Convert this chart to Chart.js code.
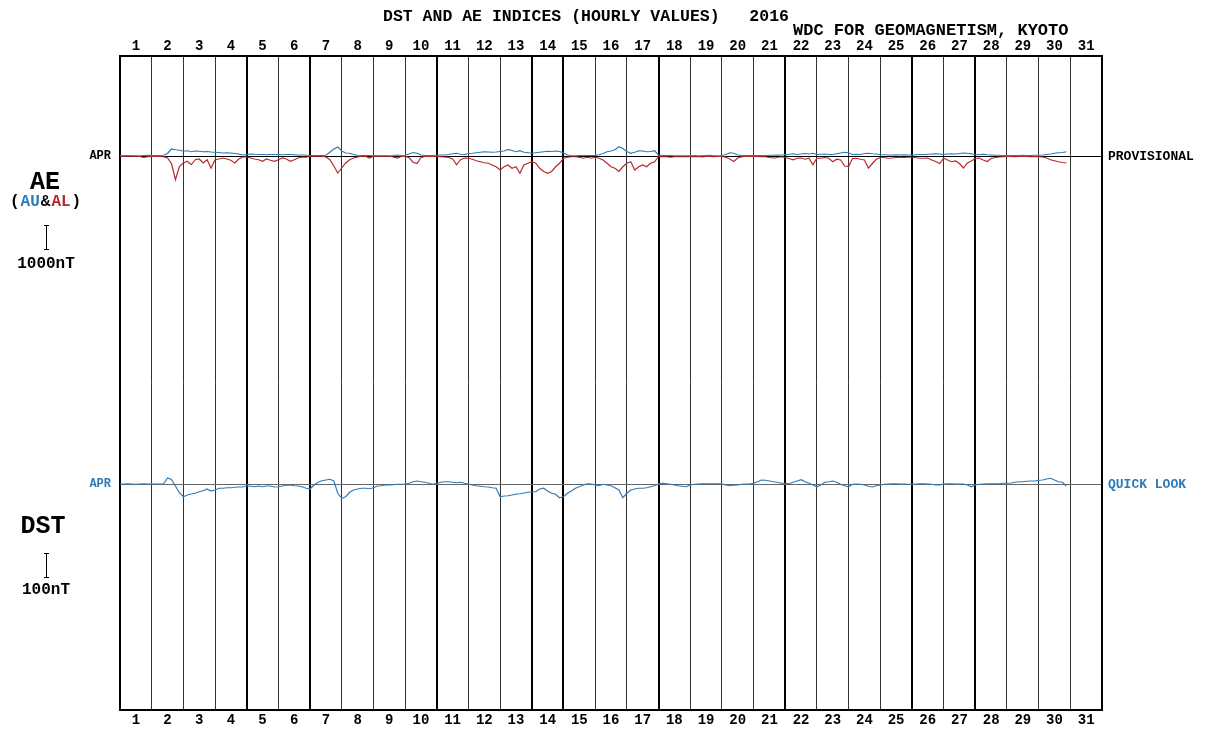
<!DOCTYPE html>
<html>
<head>
<meta charset="utf-8">
<title>DST and AE indices, April 2016</title>
<script src="https://cdn.jsdelivr.net/npm/chart.js@4.4.0/dist/chart.umd.min.js"></script>
<style>
  html, body { margin: 0; padding: 0; background: #fff; }
  canvas { display: block; }
</style>
</head>
<body>
<canvas id="chart" width="1208" height="730"></canvas>
<script>
// day columns shown on the top and bottom axes
const dayLabels = [1, 2, 3, 4, 5, 6, 7, 8, 9, 10, 11, 12, 13, 14, 15, 16,
  17, 18, 19, 20, 21, 22, 23, 24, 25, 26, 27, 28, 29, 30, 31];

// values every 3 hours (8 per day), April 1-30 2016
const hourStep = 3;

const auValues = [
  10, 10, 20, 10, 10, 10, 20, 30,
  20, 20, 20, 30, 100, 280, 250, 230,
  190, 210, 170, 200, 190, 170, 180, 160,
  150, 140, 120, 130, 120, 100, 80, 40,
  60, 80, 70, 60, 60, 50, 60, 60,
  60, 50, 60, 60, 50, 40, 40, 30,
  20, 20, 20, 20, 30, 150, 280, 360,
  200, 120, 110, 60, 30, 20, 20, 20,
  10, 10, 10, 10, 10, 20, 40, 20,
  30, 80, 140, 110, 40, 20, 20, 20,
  30, 40, 40, 60, 90, 110, 70, 60,
  100, 110, 130, 150, 170, 160, 150, 160,
  180, 200, 260, 220, 170, 210, 150, 130,
  110, 130, 150, 170, 190, 180, 200, 180,
  120, 40, 20, 10, 20, 20, 20, 20,
  20, 50, 100, 170, 200, 250, 370, 300,
  180, 110, 150, 210, 200, 170, 180, 210,
  40, 20, 20, 20, 10, 10, 10, 10,
  10, 20, 10, 10, 20, 30, 10, 10,
  20, 60, 130, 110, 40, 20, 20, 20,
  20, 20, 20, 20, 30, 30, 40, 30,
  60, 70, 90, 60, 80, 100, 80, 110,
  60, 70, 80, 60, 60, 90, 120, 150,
  130, 60, 70, 60, 100, 110, 90, 80,
  60, 50, 40, 40, 50, 40, 50, 40,
  40, 50, 60, 60, 70, 80, 90, 80,
  60, 80, 90, 80, 100, 120, 110, 90,
  50, 60, 70, 50, 40, 30, 30, 20,
  20, 20, 20, 20, 30, 20, 20, 30,
  30, 40, 60, 80, 110, 130, 140, 170
];

const alValues = [
  -10, -10, -10, -10, -10, -20, -60, -30,
  -20, -20, -20, -30, -80, -300, -950, -420,
  -280, -210, -350, -150, -120, -280, -150, -480,
  -150, -120, -80, -120, -170, -280, -120, -40,
  -40, -80, -120, -150, -210, -120, -170, -210,
  -150, -80, -120, -210, -150, -80, -40, -50,
  -10, -10, -10, -10, -40, -150, -400, -680,
  -480, -280, -150, -80, -40, -10, -10, -80,
  -10, -10, -10, -10, -10, -40, -80, -20,
  -20, -60, -250, -300, -60, -20, -20, -20,
  -20, -30, -40, -60, -120, -350, -150, -80,
  -90, -130, -190, -230, -270, -290, -360, -430,
  -560, -430, -360, -490, -430, -690, -360, -290,
  -230, -290, -490, -620, -690, -620, -430, -290,
  -90, -50, -30, -30, -50, -90, -50, -90,
  -50, -90, -160, -290, -430, -490, -620, -430,
  -290, -230, -560, -430, -360, -430, -290, -230,
  -30, -30, -30, -50, -30, -30, -30, -30,
  -20, -30, -20, -40, -20, -20, -30, -20,
  -20, -50, -120, -220, -80, -30, -20, -20,
  -20, -20, -30, -30, -60, -80, -60, -30,
  -60, -100, -150, -90, -80, -130, -90, -350,
  -80, -90, -60, -90, -230, -130, -160, -400,
  -420, -100, -90, -130, -160, -490, -300, -130,
  -60, -60, -90, -80, -60, -50, -60, -50,
  -50, -70, -90, -90, -80, -160, -220, -300,
  -90, -160, -230, -200, -300, -480, -280, -200,
  -100, -80, -160, -220, -100, -60, -40, -30,
  -20, -20, -30, -20, -20, -20, -30, -20,
  -30, -40, -80, -150, -190, -230, -260, -280
];

const dstValues = [
  -1, 0, 1, 0, -1, 0, 1, 0,
  0, 0, 0, 1, 24, 18, -8, -35,
  -51, -44, -40, -37, -31, -27, -20, -28,
  -24, -17, -17, -15, -15, -13, -12, -12,
  -7, -9, -11, -8, -11, -8, -8, -12,
  -11, -8, -5, -4, -7, -8, -11, -17,
  -20, -4, 7, 13, 16, 19, 12, -37,
  -57, -51, -33, -24, -20, -17, -17, -19,
  -15, -8, -7, -4, -4, -3, -1, -1,
  -1, 3, 9, 12, 9, 7, 3, -1,
  3, 7, 9, 9, 7, 5, 7, 3,
  0, -4, -7, -9, -11, -12, -15, -17,
  -51, -48, -47, -44, -41, -39, -36, -33,
  -31, -31, -20, -17, -28, -37, -41, -55,
  -51, -37, -28, -17, -11, -4, 1, 0,
  -4, -7, -1, -4, -7, -15, -24, -55,
  -37, -24, -20, -17, -17, -15, -11, -7,
  0, 3, 1, -1, -4, -7, -9, -11,
  -4, -1, 0, 1, 1, 1, 1, 1,
  0, -4, -7, -5, -4, -1, 0, 0,
  3, 9, 16, 15, 12, 9, 7, 3,
  3, 1, 7, 12, 17, 9, 3, -4,
  -11, -4, 7, 9, 12, 7, -1, -7,
  -11, -1, 0, -1, -4, -9, -12, -7,
  -4, -1, 0, 1, 1, 0, 0, -1,
  -1, 0, 1, 1, 0, -1, -4, -4,
  0, 1, 1, 0, 0, 0, -4, -11,
  -4, -1, 0, 1, 1, 1, 1, 3,
  3, 4, 7, 9, 9, 11, 12, 12,
  15, 16, 20, 23, 16, 9, 7, -8
];

// day boundaries drawn with a heavier line
const thickBoundaries = [4, 6, 10, 13, 14, 17, 21, 25, 27];

const auColor = '#2b7bb6';
const alColor = '#b8282a';
const dstColor = '#2f7ab8';
const mono = '"Liberation Mono", "DejaVu Sans Mono", monospace';

function toPoints(values) {
  return values.map((v, i) => ({ x: i * hourStep / 24, y: v }));
}

const dayAxis = (position) => ({
  type: 'linear',
  position: position,
  min: 0,
  max: 31,
  afterBuildTicks: (scale) => {
    scale.ticks = dayLabels.map((d) => ({ value: d - 1 })).concat([{ value: 31 }]);
  },
  ticks: {
    autoSkip: false,
    maxRotation: 0,
    padding: 3,
    labelOffset: 15.84,
    color: '#000',
    font: { family: mono, size: 14, weight: 'bold', lineHeight: 1 },
    callback: (value) => (value < 31 ? String(dayLabels[value]) : '')
  },
  grid: {
    display: position === 'bottom',
    drawTicks: false,
    color: (ctx) => (thickBoundaries.includes(ctx.tick && ctx.tick.value) ? '#000' : '#333'),
    lineWidth: (ctx) => (thickBoundaries.includes(ctx.tick && ctx.tick.value) ? 2 : 1)
  },
  border: { display: true, color: '#000', width: 2 }
});

const textPlugin = {
  id: 'sideText',
  afterDraw(chart) {
    const { ctx, chartArea, scales } = chart;
    const aeZero = scales.yAE.getPixelForValue(0);
    const dstZero = scales.yDst.getPixelForValue(0);
    const aeBar = aeZero - scales.yAE.getPixelForValue(1000);
    const dstBar = dstZero - scales.yDst.getPixelForValue(100);

    ctx.save();
    ctx.textBaseline = 'middle';
    ctx.fillStyle = '#000';

    ctx.font = 'bold 16.5px ' + mono;
    ctx.textAlign = 'left';
    ctx.fillText('DST AND AE INDICES (HOURLY VALUES)   2016', 383, 17);
    ctx.font = 'bold 17px ' + mono;
    ctx.fillText('WDC FOR GEOMAGNETISM, KYOTO', 793, 31);

    ctx.font = 'bold 12px ' + mono;
    ctx.textAlign = 'right';
    ctx.fillText('APR', chartArea.left - 9, aeZero);
    ctx.fillStyle = dstColor;
    ctx.fillText('APR', chartArea.left - 9, dstZero);

    ctx.font = 'bold 13px ' + mono;
    ctx.textAlign = 'left';
    ctx.fillStyle = '#000';
    ctx.fillText('PROVISIONAL', chartArea.right + 6, aeZero + 1);
    ctx.fillStyle = dstColor;
    ctx.fillText('QUICK LOOK', chartArea.right + 6, dstZero + 1);

    // AE block
    ctx.textAlign = 'center';
    ctx.fillStyle = '#000';
    ctx.font = 'bold 25px ' + mono;
    ctx.fillText('AE', 45, 183);
    ctx.font = 'bold 16px ' + mono;
    const parts = [['(', '#000'], ['AU', auColor], ['&', '#000'], ['AL', alColor], [')', '#000']];
    let x = 10;
    ctx.textAlign = 'left';
    parts.forEach(([t, c]) => {
      ctx.fillStyle = c;
      ctx.fillText(t, x, 202);
      x += ctx.measureText(t).width + 1;
    });
    ctx.textAlign = 'center';
    ctx.fillStyle = '#000';
    ctx.fillText('1000nT', 46, 264);

    // DST block
    ctx.font = 'bold 25px ' + mono;
    ctx.fillText('DST', 43, 527);
    ctx.font = 'bold 16px ' + mono;
    ctx.fillText('100nT', 46, 590);

    // scale bars
    ctx.strokeStyle = '#000';
    ctx.lineWidth = 1;
    [[225, aeBar], [553, dstBar]].forEach(([top, len]) => {
      ctx.beginPath();
      ctx.moveTo(46.5, top);
      ctx.lineTo(46.5, top + len);
      ctx.moveTo(44, top + 0.5);
      ctx.lineTo(49, top + 0.5);
      ctx.moveTo(44, top + len - 0.5);
      ctx.lineTo(49, top + len - 0.5);
      ctx.stroke();
    });
    ctx.restore();
  }
};

new Chart(document.getElementById('chart'), {
  type: 'line',
  data: {
    datasets: [
      {
        label: 'AL',
        data: toPoints(alValues),
        yAxisID: 'yAE',
        borderColor: alColor,
        borderWidth: 1.2,
        pointRadius: 0,
        tension: 0
      },
      {
        label: 'AU',
        data: toPoints(auValues),
        yAxisID: 'yAE',
        borderColor: auColor,
        borderWidth: 1.2,
        pointRadius: 0,
        tension: 0
      },
      {
        label: 'DST',
        data: toPoints(dstValues),
        yAxisID: 'yDst',
        borderColor: dstColor,
        borderWidth: 1.2,
        pointRadius: 0,
        tension: 0
      }
    ]
  },
  options: {
    responsive: false,
    animation: false,
    devicePixelRatio: 1,
    layout: { padding: { left: 120, right: 106, top: 36, bottom: 0 } },
    plugins: {
      legend: { display: false },
      tooltip: { enabled: false }
    },
    scales: {
      x: dayAxis('bottom'),
      xTop: dayAxis('top'),
      yAE: {
        type: 'linear',
        position: 'left',
        min: -22160,
        max: 4000,
        afterBuildTicks: (scale) => { scale.ticks = [{ value: 0 }]; },
        ticks: { display: false },
        grid: { drawTicks: false, color: '#000', lineWidth: 1 },
        border: { display: true, color: '#000', width: 2 }
      },
      yDst: {
        type: 'linear',
        position: 'right',
        min: -904,
        max: 1712,
        afterBuildTicks: (scale) => { scale.ticks = [{ value: 0 }]; },
        ticks: { display: false },
        grid: { drawTicks: false, color: '#666', lineWidth: 1 },
        border: { display: true, color: '#000', width: 2 }
      }
    }
  },
  plugins: [textPlugin]
});
</script>
</body>
</html>
